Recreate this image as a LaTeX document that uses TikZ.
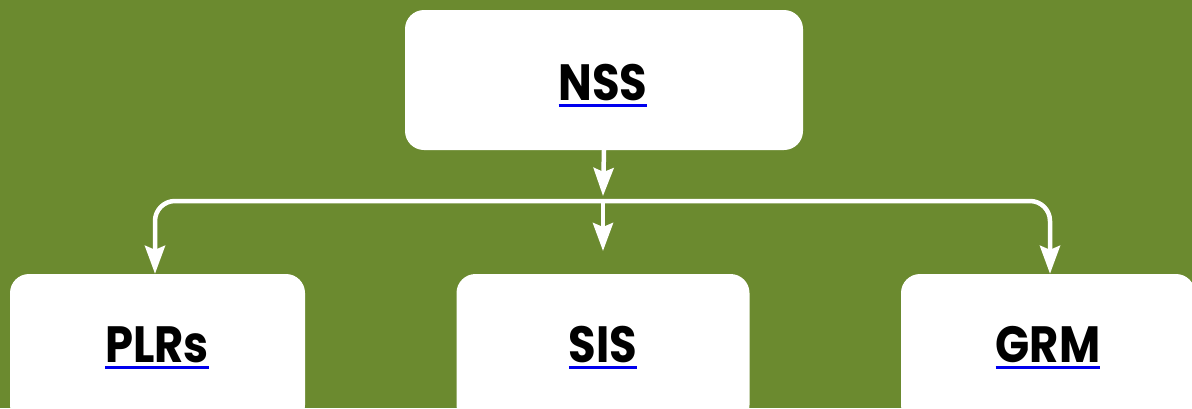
\documentclass[tikz,border=0pt]{standalone}
\usepackage{fontspec}
\setmainfont{Poppins}[UprightFont=* Bold, FakeStretch=0.88]
\usetikzlibrary{arrows.meta}
\definecolor{bg}{HTML}{6B8A2F}
\definecolor{linkblue}{HTML}{0000EE}
\newcommand\linktext[1]{\setbox0\hbox{#1}\rlap{\color{linkblue}\rule[-7pt]{\wd0}{3pt}}\box0}
\tikzset{
  box/.style={draw=none, fill=white, rounded corners=19pt, inner sep=0pt},
  lbl/.style={inner sep=0pt, anchor=base, font=\fontsize{51}{51}\selectfont, text=black},
  conn/.style={draw=white, line width=4.5pt, -{Stealth[length=28pt, width=20pt, inset=4pt]}},
  hline/.style={draw=white, line width=4.5pt, rounded corners=20pt}
}
\begin{document}
\begin{tikzpicture}[x=1pt, y=-1pt]
\useasboundingbox (0,0) rectangle (1192,408);
\fill[bg] (0,0) rectangle (1192,408);
\begin{scope}
\clip (0,0) rectangle (1192,408);
\node[box, minimum width=398pt, minimum height=140pt] (nssbox) at (604,80) {};
\node[box, minimum width=295pt, minimum height=150pt] (plrsbox) at (157.5,349) {};
\node[box, minimum width=293pt, minimum height=150pt] (sisbox) at (603,349) {};
\node[box, minimum width=294pt, minimum height=150pt] (grmbox) at (1048,349) {};
\end{scope}
\node[lbl] (nss) at (603,100) {\linktext{NSS}};
\node[lbl] (plrs) at (157,362) {\linktext{PLRs}};
\node[lbl] (sis) at (603,362) {\linktext{SIS}};
\node[lbl] (grm) at (1048,362) {\linktext{GRM}};
\coordinate (junction) at (603,201);
\coordinate (sisin) at (603,251);
\draw[conn] (nssbox.south) -- (603,196);
\draw[hline, -{Stealth[length=28pt, width=20pt, inset=4pt]}] (junction) -| (plrsbox.north -| 155,0);
\draw[hline, -{Stealth[length=28pt, width=20pt, inset=4pt]}] (junction) -| (grmbox.north -| 1050,0);
\draw[conn] (junction) -- (sisin);
\end{tikzpicture}
\end{document}
